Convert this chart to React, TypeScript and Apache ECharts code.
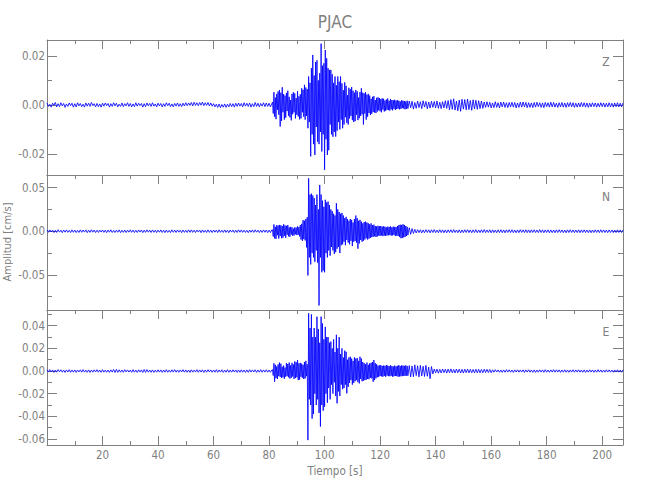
import React, { useEffect, useRef } from "react";
import * as echarts from "echarts";

// Amplitudes below are written in units of 1e-4 cm/s
const UNIT = 1e-4;
// Time layout of the sampled traces (seconds)
const PRE_START = 0;
const PRE_STEP = 0.5;
const MAIN_START = 81.25;
const MAIN_STEP = 0.25;
const POST_START = 130.5;
const POST_STEP = 0.5;

// ---------- Z component ----------
const zPre = [
  8, -6, 3, -9, 7, -2, 10, -8, 5, -7, 9, -4, 6, -10, 4, -6, 8, -3, 7, -9,
  5, -8, 9, -4, 6, -7, 3, -9, 8, -5, 7, -6, 10, -3, 5, -8, 6, -7, 4, -9,
  7, -5, 8, -3, 6, -9, 5, -6, 9, -4, 7, -8, 3, -6, 8, -7, 5, -4, 9, -6,
  6, -8, 4, -7, 9, -5, 7, -3, 6, -9, 5, -7, 8, -4, 6, -6, 9, -5, 4, -8,
  7, -4, 6, -8, 5, -6, 9, -3, 7, -7, 4, -8, 6, -5, 8, -6, 5, -7, 7, -4,
  9, -3, 8, -2, 10, -4, 11, -2, 9, -3, 10, -1, 12, -3, 9, -2, 10, -4, 8, -5,
  5, -8, 3, -10, 4, -11, 2, -9, 4, -10, 3, -8, 6, -7, 5, -9, 7, -6, 8, -5,
  6, -8, 9, -5, 7, -6, 8, -9, 5, -7, 10, -6, 7, -8, 6, -5, 9, -7, 8, -6,
  7, -8, 6,
];
const zMain = [
  12, -35, 52, -48, 30, -58, 45, -20, 55, -40, 61, -88, 50, -65, 72, -30, 44, -60, 38, -52,
  49, -25, 58, -44, 33, -51, 20, -63, 45, -38, 52, -30, 47, -55, 28, -40, 56, -47, 35, -59,
  43, -55, 68, -30, 62, -48, 82, -60, 71, -45, 64, -95, 116, -70, 90, -210, 150, -120, 204, -160,
  120, -204, 175, -90, 182, -150, 100, -160, 130, -110, 250, -190, 160, -120, 170, -265, 224, -140, 190, -204,
  150, -185, 143, -80, 143, -120, 125, -130, 90, -110, 116, -129, 80, -105, 116, -70, 95, -100, 116, -60,
  88, -95, 60, -80, 92, -50, 78, -73, 40, -80, 70, -55, 64, -45, 73, -62, 58, -70, 50, -66,
  61, -40, 55, -62, 30, -54, 52, -45, 68, -38, 50, -80, 47, -35, 52, -60, 42, -48, 45, -33,
  38, -41, 25, -36, 33, -29, 36, -31, 20, -33, 29, -27, 31, -22, 28, -26, 24, -30, 27, -19,
  25, -27, 18, -24, 22, -20, 26, -21, 17, -23, 24, -18, 20, -22, 19, -16, 21, -20, 18, -17,
  19, -15, 17, -18, 14, -16, 19, -13, 17, -15, 16, -18, 14, -16, 17, -15,
];
const zPost = [
  16, -12, 15, -17, 10, -14, 16, -11, 13, -15, 17, -9, 14, -16, 12, -13, 15, -10, 14, -12,
  16, -14, 11, -15, 13, -12, 17, -14, 18, -20,
  22, -18, 25, -21, 16, -24, 20, -26, 23, -17, 22, -20, 24, -19, 18, -22, 21, -16, 19, -18,
  17, -15, 16, -14,
  12, -10, 13, -9, 11, -12, 8, -11, 13, -10, 9, -12, 11, -8, 12, -10, 9, -11, 10, -8,
  11, -9, 10, -12, 8, -10, 11, -9, 12, -8, 10, -11, 9, -10, 8, -11, 10, -9, 11, -7,
  9, -10, 8, -11, 10, -7, 9, -9, 11, -8, 10, -9, 7, -10, 9, -8, 10, -9, 8, -10,
  9, -7, 10, -8, 9, -10, 7, -9, 8, -8, 10, -7, 9, -9, 8, -10, 7, -8, 9, -7,
  8, -9, 7, -8, 9, -7, 8, -9, 7, -8, 9, -8, 7, -9, 8, -7, 9, -8, 7, -8,
  8,
];

// ---------- N component ----------
const nPre = [
  14, -12, 16, -9, 13, -15, 11, -14, 17, -10, 12, -16, 14, -11, 15, -13, 10, -15, 16, -12,
  13, -15, 11, -14, 16, -12, 14, -10, 15, -16, 12, -13, 17, -11, 14, -15, 12, -14, 13, -10,
  15, -13, 12, -16, 14, -11, 16, -14, 10, -15, 13, -12, 15, -16, 11, -13, 14, -15, 12, -11,
  16, -12, 13, -15, 11, -14, 15, -10, 14, -16, 12, -13, 16, -11, 13, -14, 15, -12, 11, -15,
  13, -11, 15, -14, 12, -16, 14, -13, 10, -15, 16, -12, 13, -14, 15, -11, 12, -16, 14, -13,
  11, -14, 16, -12, 15, -13, 12, -15, 14, -10, 13, -16, 15, -12, 11, -14, 16, -13, 12, -15,
  14, -11, 13, -15, 16, -12, 11, -14, 15, -13, 12, -16, 14, -10, 13, -15, 12, -14, 16, -11,
  15, -13, 12, -14, 11, -16, 14, -12, 15, -13, 16, -11, 13, -15, 12, -14, 15, -12, 14, -16,
  13, -15, 17,
];
const nMain = [
  15, -60, 78, -82, 50, -88, 70, -45, 65, -84, 72, -55, 68, -80, 60, -75, 80, -52, 66, -75,
  62, -40, 71, -58, 45, -64, 50, -38, 45, -52, 30, -48, 44, -35, 42, -44, 55, -40, 48, -60,
  70, -95, 85, -110, 127, -90, 120, -105, 140, -185, 160, -506, 606, -300, 420, -380, 430, -250, 410, -300,
  380, -350, 300, -220, 420, -360, 250, -850, 530, -300, 420, -470, 350, -450, 280, -470, 360, -250, 330, -300,
  340, -220, 300, -280, 250, -180, 230, -220, 200, -260, 180, -240, 320, -200, 250, -180, 220, -250, 200, -160,
  210, -150, 180, -120, 150, -160, 165, -100, 140, -130, 120, -150, 140, -110, 130, -170, 100, -120, 140, -110,
  180, -130, 150, -200, 120, -140, 130, -100, 110, -120, 90, -110, 105, -95, 110, -80, 100, -95, 90, -85,
  80, -75, 90, -68, 70, -64, 75, -58, 60, -66, 55, -60, 62, -50, 58, -55, 60, -48, 52, -56,
  56, -50, 52, -54, 45, -48, 52, -46, 50, -44, 55, -50, 45, -48, 52, -42, 50, -55, 48, -50,
  60, -55, 70, -65, 75, -80, 72, -78, 80, -70, 72, -65, 60, -55, 50, -45,
];
const nPost = [
  40, -35, 30, -25, 22, -20,
  18, -16, 17, -19, 15, -17, 18, -14, 16, -18, 17, -15, 19, -16, 14, -17, 18, -15, 16, -17,
  15, -18, 16, -14, 17, -16, 19, -15, 14, -17, 16, -18, 15, -16, 17, -14, 18, -16, 15, -17,
  16, -15, 18, -17, 14, -16, 17, -15, 19, -16, 15, -14, 17, -18, 16, -15, 14, -17, 16, -15,
  17, -16, 15, -18, 16, -14, 18, -15, 17, -16, 14, -17, 15, -16, 18, -14, 16, -15, 17, -16,
  15, -17, 16, -14, 17, -15, 14, -16, 18, -15, 16, -17, 15, -14, 16, -18, 15, -16, 14, -17,
  16, -15, 17, -14, 15, -16, 14, -17, 16, -15, 17, -14, 15, -16, 14, -15, 16, -17, 15, -14,
  16, -15, 14, -16, 15, -17, 14, -15, 16, -14, 15, -16, 17, -14, 15, -15, 14, -16, 15, -14,
  15, -16, 14, -15, 16, -14, 15, -15, 14,
];

// ---------- E component ----------
const ePre = [
  11, -9, 12, -8, 10, -12, 9, -10, 13, -7, 11, -10, 8, -12, 10, -9, 12, -11, 9, -10,
  10, -12, 9, -8, 11, -10, 12, -9, 8, -11, 10, -12, 9, -10, 11, -8, 12, -10, 9, -11,
  12, -10, 8, -11, 9, -12, 10, -9, 14, -13, 15, -12, 11, -10, 9, -11, 12, -8, 10, -9,
  9, -11, 12, -10, 8, -12, 11, -9, 10, -13, 14, -12, 13, -10, 9, -11, 10, -12, 8, -10,
  11, -9, 10, -12, 9, -10, 12, -11, 8, -10, 11, -9, 12, -10, 9, -11, 10, -8, 12, -10,
  10, -11, 9, -12, 11, -10, 8, -9, 12, -11, 10, -9, 11, -12, 9, -10, 12, -8, 10, -11,
  9, -10, 12, -11, 10, -9, 11, -12, 8, -10, 12, -11, 9, -10, 11, -9, 10, -12, 9, -11,
  11, -10, 9, -12, 10, -11, 12, -9, 10, -8, 11, -12, 9, -10, 12, -11, 10, -9, 11, -10,
  9, -11, 10,
];
const eMain = [
  12, -40, 68, -94, 55, -62, 40, -70, 58, -45, 75, -52, 65, -60, 38, -55, 48, -68, 30, -50,
  70, -45, 62, -55, 75, -66, 50, -60, 72, -48, 58, -70, 85, -62, 78, -55, 97, -80, 68, -75,
  72, -50, 65, -60, 55, -70, 80, -65, 90, -45, 60, -610, 510, -250, 380, -300, 500, -420, 300, -380,
  380, -200, 300, -300, 480, -250, 370, -370, 250, -490, 480, -300, 420, -350, 280, -315, 390, -200, 300, -280,
  300, -150, 250, -250, 260, -120, 200, -200, 280, -100, 168, -220, 320, -285, 200, -180, 300, -220, 150, -120,
  200, -160, 120, -150, 180, -120, 170, -197, 100, -140, 120, -105, 126, -80, 110, -120, 90, -105, 120, -90,
  110, -80, 115, -98, 90, -109, 126, -70, 110, -90, 80, -85, 70, -80, 60, -78, 75, -70, 55, -72,
  68, -60, 72, -65, 80, -94, 97, -80, 70, -65, 60, -55, 48, -52, 50, -44, 53, -47, 45, -50,
  48, -44, 46, -50, 52, -40, 48, -45, 44, -46, 50, -42, 45, -50, 40, -46, 48, -44, 42, -45,
  46, -50, 52, -48, 44, -46, 50, -45, 48, -42, 46, -44, 50, -40, 45, -42,
];
const ePost = [
  48, -52, 45, -50, 55, -40, 46, -52, 50, -44, 42, -48, 50, -46, 35, -68, 40, -25,
  18, -16, 17, -19, 15, -17, 18, -14, 16, -18, 17, -15, 19, -16, 14, -17, 18, -15, 16, -17,
  15, -18, 16, -14, 17, -16, 15, -15, 14, -17, 16, -15, 15, -16, 14, -15, 16, -14, 15, -13,
  14, -15,
  11, -10, 12, -9, 10, -11, 9, -12, 10, -11, 12, -9, 11, -10, 9, -12, 10, -9, 11, -10,
  10, -9, 11, -12, 10, -9, 11, -10, 9, -11, 10, -12, 9, -10, 11, -9, 10, -11, 12, -10,
  9, -11, 10, -9, 12, -10, 11, -9, 10, -12, 9, -10, 11, -10, 9, -11, 10, -9, 11, -10,
  10, -9, 11, -10, 9, -11, 10, -12, 9, -10, 11, -9, 10, -11, 9, -10, 12, -9, 10, -11,
  9, -10, 11, -9, 10, -10, 9, -11, 10, -9, 11, -10, 9, -10, 11,
];

// ---------- axes & texts ----------
const componentNames = ["Z", "N", "E"];
const yTitle = "Amplitud [cm/s]";
const xTitle = "Tiempo [s]";
const chartTitle = "PJAC";
const xExtent = [0, 207.5];
const xMajorTicks = [20, 40, 60, 80, 100, 120, 140, 160, 180, 200];
const xMinorTicks = [10, 30, 50, 70, 90, 110, 130, 150, 170, 190];
const yExtents = [
  [-0.0286, 0.0265],
  [-0.0902, 0.0644],
  [-0.0653, 0.0539],
];
const yMajorTicks = [
  [-0.02, 0, 0.02],
  [-0.05, 0, 0.05],
  [-0.06, -0.04, -0.02, 0, 0.02, 0.04],
];
const yMinorTicks = [
  [-0.01, 0.01],
  [-0.075, -0.025, 0.025],
  [-0.05, -0.03, -0.01, 0.01, 0.03, 0.05],
];

const GRAY = "#808080";
const FONT = "'DejaVu Sans Condensed','DejaVu Sans',sans-serif";

function buildTrace(pre: number[], main: number[], post: number[]) {
  const out: [number, number][] = [];
  pre.forEach((v, i) => out.push([PRE_START + i * PRE_STEP, v * UNIT]));
  main.forEach((v, i) => out.push([MAIN_START + i * MAIN_STEP, v * UNIT]));
  post.forEach((v, i) => out.push([POST_START + i * POST_STEP, v * UNIT]));
  return out;
}

const traces = [
  buildTrace(zPre, zMain, zPost),
  buildTrace(nPre, nMain, nPost),
  buildTrace(ePre, eMain, ePost),
];

const GRID_TOPS = [40, 175, 310];
const GRID_H = 135;
const GRID_LEFT = 47;
const GRID_W = 576;

function fmtY(v: number) {
  const s = Math.abs(v).toFixed(2);
  return v < -1e-9 ? "-" + s : s;
}

function xAxisDef(grid: number, position: string, ticks: number[], len: number, showLine: boolean, labels: boolean) {
  return {
    type: "value",
    gridIndex: grid,
    position,
    min: xExtent[0],
    max: xExtent[1],
    axisLine: { show: showLine, onZero: false, lineStyle: { color: GRAY, width: 1 } },
    axisTick: ticks.length
      ? { show: true, inside: true, length: len, customValues: ticks, lineStyle: { color: GRAY, width: 1 } }
      : { show: false },
    axisLabel: labels
      ? {
          show: true,
          customValues: xMajorTicks,
          formatter: (v: number) => String(v),
          color: GRAY,
          fontSize: 11.5,
          fontFamily: FONT,
          margin: 4,
        }
      : { show: false },
    splitLine: { show: false },
    minorTick: { show: false },
  };
}

function yAxisDef(grid: number, position: string, ticks: number[], len: number, showLine: boolean, labels: boolean) {
  return {
    type: "value",
    gridIndex: grid,
    position,
    min: yExtents[grid][0],
    max: yExtents[grid][1],
    axisLine: { show: showLine, onZero: false, lineStyle: { color: GRAY, width: 1 } },
    axisTick: { show: true, inside: true, length: len, customValues: ticks, lineStyle: { color: GRAY, width: 1 } },
    axisLabel: labels
      ? {
          show: true,
          customValues: yMajorTicks[grid],
          formatter: fmtY,
          color: GRAY,
          fontSize: 11.5,
          fontFamily: FONT,
          margin: 2,
          hideOverlap: false,
        }
      : { show: false },
    splitLine: { show: false },
    minorTick: { show: false },
  };
}

export default function App() {
  const ref = useRef<HTMLDivElement>(null);
  useEffect(() => {
    if (!ref.current) return;
    const chart = echarts.init(ref.current, undefined, { renderer: "svg" });
    const grids: any[] = [];
    const xAxes: any[] = [];
    const yAxes: any[] = [];
    const series: any[] = [];
    for (let g = 0; g < 3; g++) {
      grids.push({ left: GRID_LEFT, top: GRID_TOPS[g], width: GRID_W, height: GRID_H, containLabel: false });
      const isLast = g === 2;
      const xBase = xAxes.length;
      xAxes.push(xAxisDef(g, "bottom", isLast ? xMajorTicks : [], 9, true, isLast));
      xAxes.push(xAxisDef(g, "bottom", isLast ? xMinorTicks : [], 4, false, false));
      xAxes.push(xAxisDef(g, "top", xMajorTicks, 9, true, false));
      xAxes.push(xAxisDef(g, "top", xMinorTicks, 4, false, false));
      const yBase = yAxes.length;
      yAxes.push(yAxisDef(g, "left", yMajorTicks[g], 10, true, true));
      yAxes.push(yAxisDef(g, "left", yMinorTicks[g], 5, false, false));
      yAxes.push(yAxisDef(g, "right", yMajorTicks[g], 10, true, false));
      yAxes.push(yAxisDef(g, "right", yMinorTicks[g], 5, false, false));
      series.push({
        type: "line",
        name: componentNames[g],
        xAxisIndex: xBase,
        yAxisIndex: yBase,
        data: traces[g],
        showSymbol: false,
        symbol: "none",
        silent: true,
        lineStyle: { color: "#0000ff", width: 0.85 },
      });
    }

    const textStyle = (text: string, size: number) => ({
      text,
      fill: GRAY,
      font: `${size}px ${FONT}`,
      align: "center",
      verticalAlign: "middle",
    });
    const graphics: any[] = [
      { type: "text", x: 335, y: 22, style: textStyle(chartTitle, 17) },
      { type: "text", x: 335, y: 471, style: textStyle(xTitle, 11.5) },
      { type: "text", x: 7, y: 242, rotation: Math.PI / 2, style: textStyle(yTitle, 11) },
    ];
    componentNames.forEach((c, g) => {
      graphics.push({ type: "text", x: 606, y: GRID_TOPS[g] + 22, style: textStyle(c, 12) });
    });
    chart.setOption({
      animation: false,
      backgroundColor: "#ffffff",
      grid: grids,
      xAxis: xAxes,
      yAxis: yAxes,
      series,
      graphic: graphics,
    });
    return () => chart.dispose();
  }, []);
  return (
    <div
      ref={ref}
      style={{ position: "fixed", left: 0, top: 0, width: 650, height: 500, background: "#fff" }}
    />
  );
}
